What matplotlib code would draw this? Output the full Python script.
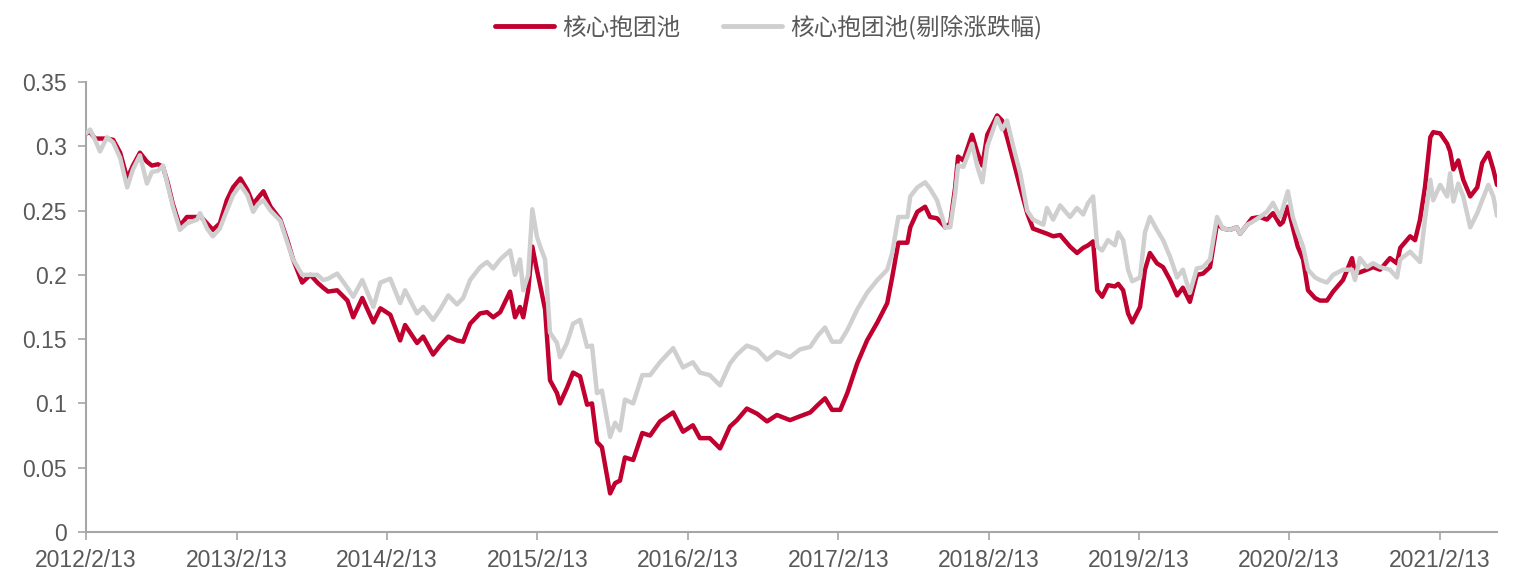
import matplotlib
matplotlib.use("Agg")
import matplotlib.pyplot as plt
import pandas as pd

# ---------------- data ----------------
dates = [
    "2012-02-13", "2012-02-23", "2012-03-06", "2012-03-18", "2012-04-04", "2012-04-19", "2012-05-06", "2012-05-23",
    "2012-06-06", "2012-06-23", "2012-07-10", "2012-07-22", "2012-08-06", "2012-08-18", "2012-08-30", "2012-09-11",
    "2012-09-28", "2012-10-15", "2012-11-09", "2012-11-16", "2012-12-03", "2012-12-17", "2013-01-03", "2013-01-20",
    "2013-02-04", "2013-02-22", "2013-03-11", "2013-03-25", "2013-04-06", "2013-04-19", "2013-05-06", "2013-05-30",
    "2013-06-16", "2013-06-30", "2013-07-22", "2013-08-11", "2013-08-28", "2013-09-11", "2013-09-23", "2013-10-15",
    "2013-11-09", "2013-11-23", "2013-12-15", "2014-01-11", "2014-01-28", "2014-02-21", "2014-03-17", "2014-03-29",
    "2014-04-27", "2014-05-12", "2014-06-05", "2014-06-22", "2014-07-12", "2014-08-02", "2014-08-17", "2014-09-03",
    "2014-09-27", "2014-10-14", "2014-10-29", "2014-11-15", "2014-12-09", "2014-12-21", "2015-01-02", "2015-01-10",
    "2015-01-22", "2015-02-01", "2015-02-12", "2015-02-20", "2015-03-04", "2015-03-16", "2015-04-02", "2015-04-09",
    "2015-04-26", "2015-05-11", "2015-05-28", "2015-06-14", "2015-06-26", "2015-07-08", "2015-07-20", "2015-08-09",
    "2015-08-21", "2015-09-02", "2015-09-14", "2015-10-04", "2015-10-26", "2015-11-14", "2015-12-08", "2016-01-09",
    "2016-02-02", "2016-02-26", "2016-03-14", "2016-04-07", "2016-05-02", "2016-05-26", "2016-06-12", "2016-07-06",
    "2016-07-31", "2016-08-24", "2016-09-17", "2016-10-19", "2016-11-12", "2016-12-07", "2016-12-26", "2017-01-12",
    "2017-01-29", "2017-02-18", "2017-03-07", "2017-03-31", "2017-04-24", "2017-05-19", "2017-06-12", "2017-06-24",
    "2017-07-09", "2017-07-31", "2017-08-07", "2017-08-24", "2017-09-12", "2017-09-24", "2017-10-11", "2017-10-31",
    "2017-11-12", "2017-11-24", "2017-12-01", "2017-12-14", "2018-01-04", "2018-01-17", "2018-01-29", "2018-02-10",
    "2018-03-06", "2018-03-18", "2018-03-30", "2018-04-14", "2018-05-01", "2018-05-18", "2018-06-01", "2018-06-26",
    "2018-07-05", "2018-07-20", "2018-08-06", "2018-08-30", "2018-09-16", "2018-10-01", "2018-10-13", "2018-10-25",
    "2018-11-04", "2018-11-16", "2018-11-30", "2018-12-17", "2018-12-25", "2019-01-06", "2019-01-18", "2019-01-28",
    "2019-02-16", "2019-02-28", "2019-03-12", "2019-03-29", "2019-04-13", "2019-04-30", "2019-05-17", "2019-05-31",
    "2019-06-17", "2019-07-04", "2019-07-19", "2019-08-05", "2019-08-22", "2019-09-05", "2019-09-22", "2019-10-09",
    "2019-10-17", "2019-11-03", "2019-11-15", "2019-12-04", "2019-12-21", "2020-01-05", "2020-01-22", "2020-01-29",
    "2020-02-10", "2020-02-22", "2020-03-05", "2020-03-18", "2020-03-30", "2020-04-16", "2020-04-28", "2020-05-15",
    "2020-05-30", "2020-06-23", "2020-07-15", "2020-07-22", "2020-08-03", "2020-08-20", "2020-09-04", "2020-09-21",
    "2020-10-15", "2020-11-01", "2020-11-09", "2020-12-03", "2020-12-15", "2020-12-27", "2021-01-08", "2021-01-21",
    "2021-01-28", "2021-02-14", "2021-03-03", "2021-03-10", "2021-03-18", "2021-03-30", "2021-04-11", "2021-04-28",
    "2021-05-15", "2021-05-27", "2021-06-11", "2021-06-23", "2021-07-02",
]

core_pool = [
    0.310, 0.311, 0.306, 0.306, 0.306, 0.305, 0.295, 0.275, 0.285, 0.295, 0.288, 0.285, 0.286, 0.284, 0.271, 0.255,
    0.238, 0.245, 0.245, 0.246, 0.240, 0.235, 0.240, 0.258, 0.268, 0.275, 0.266, 0.255, 0.260, 0.265, 0.253, 0.243,
    0.227, 0.212, 0.194, 0.200, 0.194, 0.190, 0.187, 0.188, 0.180, 0.167, 0.182, 0.163, 0.174, 0.169, 0.149, 0.161,
    0.147, 0.152, 0.138, 0.145, 0.152, 0.149, 0.148, 0.162, 0.170, 0.171, 0.167, 0.171, 0.187, 0.167, 0.175, 0.167,
    0.188, 0.222, 0.204, 0.192, 0.173, 0.118, 0.108, 0.100, 0.112, 0.124, 0.121, 0.099, 0.100, 0.070, 0.066, 0.030,
    0.038, 0.040, 0.058, 0.056, 0.077, 0.075, 0.086, 0.093, 0.078, 0.083, 0.073, 0.073, 0.065, 0.082, 0.087, 0.096,
    0.092, 0.086, 0.091, 0.087, 0.090, 0.093, 0.099, 0.104, 0.095, 0.095, 0.108, 0.131, 0.149, 0.163, 0.178, 0.198,
    0.225, 0.225, 0.237, 0.249, 0.253, 0.245, 0.244, 0.237, 0.240, 0.268, 0.292, 0.289, 0.309, 0.295, 0.285, 0.309,
    0.324, 0.320, 0.307, 0.289, 0.268, 0.248, 0.236, 0.233, 0.232, 0.230, 0.231, 0.222, 0.217, 0.221, 0.223, 0.226,
    0.188, 0.183, 0.192, 0.191, 0.193, 0.188, 0.170, 0.163, 0.175, 0.204, 0.217, 0.209, 0.206, 0.196, 0.184, 0.190,
    0.179, 0.200, 0.201, 0.206, 0.240, 0.236, 0.235, 0.237, 0.232, 0.239, 0.244, 0.245, 0.243, 0.248, 0.239, 0.241,
    0.253, 0.237, 0.222, 0.212, 0.188, 0.182, 0.180, 0.180, 0.187, 0.196, 0.213, 0.201, 0.202, 0.204, 0.206, 0.204,
    0.213, 0.209, 0.221, 0.230, 0.227, 0.243, 0.268, 0.307, 0.311, 0.310, 0.302, 0.296, 0.282, 0.289, 0.274, 0.261,
    0.268, 0.287, 0.295, 0.282, 0.270,
]

core_pool_adj = [
    0.310, 0.313, 0.305, 0.296, 0.307, 0.303, 0.291, 0.268, 0.282, 0.293, 0.271, 0.280, 0.281, 0.285, 0.269, 0.253,
    0.235, 0.240, 0.243, 0.248, 0.236, 0.230, 0.236, 0.250, 0.262, 0.270, 0.262, 0.249, 0.255, 0.258, 0.250, 0.242,
    0.225, 0.212, 0.200, 0.200, 0.200, 0.196, 0.197, 0.201, 0.190, 0.183, 0.196, 0.175, 0.194, 0.197, 0.178, 0.188,
    0.170, 0.175, 0.165, 0.173, 0.184, 0.177, 0.182, 0.196, 0.206, 0.210, 0.205, 0.212, 0.219, 0.200, 0.212, 0.188,
    0.200, 0.251, 0.230, 0.222, 0.212, 0.155, 0.147, 0.136, 0.147, 0.162, 0.165, 0.144, 0.145, 0.108, 0.110, 0.074,
    0.085, 0.079, 0.103, 0.100, 0.122, 0.122, 0.132, 0.143, 0.128, 0.132, 0.124, 0.122, 0.114, 0.131, 0.138, 0.145,
    0.142, 0.134, 0.140, 0.136, 0.142, 0.144, 0.153, 0.159, 0.148, 0.148, 0.157, 0.173, 0.186, 0.196, 0.204, 0.217,
    0.245, 0.245, 0.261, 0.268, 0.272, 0.267, 0.258, 0.237, 0.237, 0.263, 0.285, 0.284, 0.302, 0.284, 0.272, 0.300,
    0.322, 0.313, 0.320, 0.300, 0.279, 0.250, 0.243, 0.239, 0.252, 0.243, 0.254, 0.245, 0.252, 0.247, 0.256, 0.261,
    0.222, 0.219, 0.227, 0.223, 0.233, 0.227, 0.204, 0.195, 0.198, 0.233, 0.245, 0.235, 0.227, 0.214, 0.198, 0.204,
    0.186, 0.205, 0.206, 0.212, 0.245, 0.236, 0.235, 0.237, 0.232, 0.239, 0.241, 0.245, 0.249, 0.256, 0.245, 0.252,
    0.265, 0.245, 0.233, 0.222, 0.204, 0.198, 0.196, 0.194, 0.200, 0.204, 0.204, 0.196, 0.213, 0.206, 0.209, 0.206,
    0.204, 0.198, 0.212, 0.218, 0.214, 0.210, 0.243, 0.274, 0.258, 0.270, 0.261, 0.279, 0.257, 0.271, 0.261, 0.237,
    0.248, 0.258, 0.270, 0.261, 0.246,
]

series_names = ["核心抱团池", "核心抱团池(剔除涨跌幅)"]
x_tick_dates = ["2012-02-13", "2013-02-13", "2014-02-13", "2015-02-13", "2016-02-13",
                "2017-02-13", "2018-02-13", "2019-02-13", "2020-02-13", "2021-02-13"]
x_tick_labels = ["2012/2/13", "2013/2/13", "2014/2/13", "2015/2/13", "2016/2/13",
                 "2017/2/13", "2018/2/13", "2019/2/13", "2020/2/13", "2021/2/13"]
y_ticks = [0, 0.05, 0.1, 0.15, 0.2, 0.25, 0.3, 0.35]
y_tick_labels = ["0", "0.05", "0.1", "0.15", "0.2", "0.25", "0.3", "0.35"]

# ---------------- styling ----------------
plt.rcParams["font.family"] = ["Liberation Sans", "DejaVu Sans"]
RED = "#C0002F"
GRAY = "#CFCFCF"
TXT = "#595959"
AXC = "#A6A6A6"

W, H = 1518, 582
fig = plt.figure(figsize=(W / 100, H / 100), dpi=100)
ax = fig.add_axes([86 / W, 1 - 532 / H, (1497 - 86) / W, 450 / H])

d = pd.to_datetime(dates)
ax.plot(d, core_pool, color=RED, lw=3.2, label=series_names[0],
        solid_joinstyle="round", solid_capstyle="round", zorder=3)
ax.plot(d, core_pool_adj, color=GRAY, lw=3.2, label=series_names[1],
        solid_joinstyle="round", solid_capstyle="round", zorder=4)

ax.set_xlim(d[0], d[-1])
ax.set_ylim(0, 0.35)

ax.set_xticks(pd.to_datetime(x_tick_dates))
ax.set_xticklabels(x_tick_labels)
ax.set_yticks(y_ticks)
ax.set_yticklabels(y_tick_labels)

for s in ["top", "right"]:
    ax.spines[s].set_visible(False)
for s in ["left", "bottom"]:
    ax.spines[s].set_color(AXC)
    ax.spines[s].set_linewidth(1.5)

ax.tick_params(axis="both", colors=AXC, labelcolor=TXT, labelsize=16.5,
               width=1.2, length=6, direction="out")
ax.tick_params(axis="y", pad=8)
ax.tick_params(axis="x", pad=6)

leg = fig.legend(loc="center", bbox_to_anchor=(769 / W, 1 - 27 / H), ncol=2,
                 frameon=False, handlelength=2.5, handletextpad=0.35,
                 columnspacing=1.8,
                 prop={"family": ["Noto Sans CJK SC", "DejaVu Sans"], "size": 17})
for t in leg.get_texts():
    t.set_color(TXT)
for l in leg.get_lines():
    l.set_linewidth(3.5)

fig.savefig("out.png", dpi=100)
